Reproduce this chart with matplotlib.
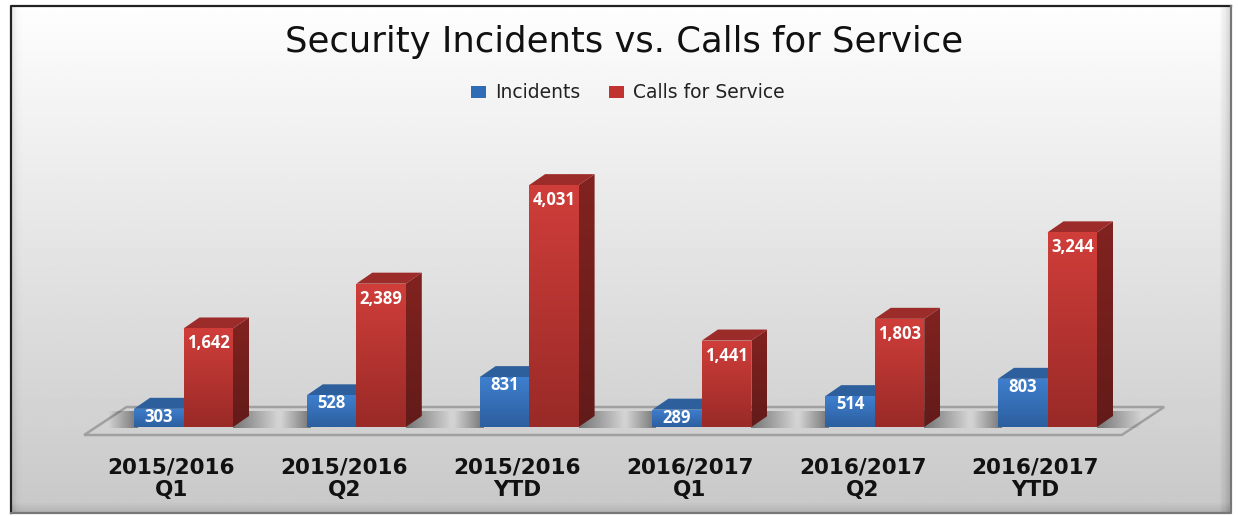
import numpy as np
import matplotlib
matplotlib.use('Agg')
import matplotlib.pyplot as plt
from matplotlib.patches import Polygon, Patch
from matplotlib.colors import LinearSegmentedColormap

categories = ['2015/2016\nQ1', '2015/2016\nQ2', '2015/2016\nYTD',
              '2016/2017\nQ1', '2016/2017\nQ2', '2016/2017\nYTD']
incidents = [303, 528, 831, 289, 514, 803]
calls = [1642, 2389, 4031, 1441, 1803, 3244]

W, H = 1238, 516
x0_px, x_step = 183.5, 172.8   # pixel of first category, pixels per category
y0_px, y_scale = 427.0, 0.06   # pixel of zero, pixels per unit
bar_w = 49.5 / x_step
dx = 16 / x_step
dy = 11 / y_scale

fig = plt.figure(figsize=(W / 100, H / 100), dpi=100, facecolor='white')

# background panel, in pixels
bg = fig.add_axes([0, 0, 1, 1])
bg.set_xlim(0, W)
bg.set_ylim(H, 0)
bg.axis('off')
L, T, R, B = 11, 6, 1231, 513
col = np.linspace(0.995, 0.785, 256)[:, None] * np.ones((256, 256))
yy, xx = np.mgrid[0:256, 0:256]
col = col.copy()
band = 6.0 / (R - L) * 256
right = np.clip((xx - (255 - band * 1.5)) / (band * 1.5), 0, 1)
left = np.clip(1 - xx / band, 0, 1)
bottom = np.clip((yy - 250) / 6, 0, 1)
col = col - 0.12 * right - 0.06 * left - 0.1 * bottom
bg.imshow(col, cmap='gray', vmin=0, vmax=1, extent=(L, R, B, T), aspect='auto', zorder=0)
bg.plot([L, L, R], [B, T, T], color='#222222', lw=1.6, zorder=2)
bg.plot([L, R, R], [B, B, T], color='#777777', lw=1.6, zorder=2)
bg.set_xlim(0, W)
bg.set_ylim(H, 0)

# main axes: x in categories, y in values, same pixel frame
ax = fig.add_axes([0, 0, 1, 1], facecolor='none')
ax.set_xlim((0 - x0_px) / x_step, (W - x0_px) / x_step)
ax.set_ylim((y0_px - H) / y_scale, y0_px / y_scale)
ax.axis('off')


def grad_poly(pts, c_top, c_bot, z):
    pts = np.array(pts)
    poly = Polygon(pts, closed=True, fc='none', ec='none', zorder=z)
    ax.add_patch(poly)
    cm = LinearSegmentedColormap.from_list('g', [c_top, c_bot])
    im = ax.imshow(np.linspace(0, 1, 128)[:, None], cmap=cm, aspect='auto', zorder=z,
                   extent=(pts[:, 0].min(), pts[:, 0].max(), pts[:, 1].min(), pts[:, 1].max()),
                   origin='upper', interpolation='bilinear')
    im.set_clip_path(poly)


def bar3d(x, v, front, side, top, z):
    grad_poly([(x, 0), (x + bar_w, 0), (x + bar_w, v), (x, v)], front[0], front[1], z + 1)
    grad_poly([(x + bar_w, 0), (x + bar_w + dx, dy), (x + bar_w + dx, v + dy), (x + bar_w, v)],
              side[0], side[1], z)
    ax.add_patch(Polygon([(x, v), (x + bar_w, v), (x + bar_w + dx, v + dy), (x + dx, v + dy)],
                         fc=top, ec='none', zorder=z))


def shadow(x1, x2, reverse):
    a = np.linspace(0.45, 0, 64)
    if reverse:
        a = a[::-1]
    rgba = np.zeros((1, 64, 4))
    rgba[0, :, 3] = a
    ax.imshow(rgba, aspect='auto', zorder=2, extent=(x1, x2, -20, 250), interpolation='bilinear')


# floor
fl = [(-0.575 - 0.0, -133), (5.43, -133), (5.675, 333), (-0.33, 333)]
ax.add_patch(Polygon(fl, closed=True, fc='none', ec='#a0a0a0', lw=1.8, zorder=1))

blue = dict(front=('#3f7fcf', '#2c5f9e'), side=('#2a5a94', '#234c80'), top='#2d5f9c')
red = dict(front=('#d03e3a', '#992a27'), side=('#822320', '#621b19'), top='#9c2c29')

for i, (a, b) in enumerate(zip(incidents, calls)):
    shadow(i - bar_w - 0.15, i - bar_w + 0.02, True)
    shadow(i + bar_w, i + bar_w + 0.26, False)
    bar3d(i - bar_w, a, z=4, **blue)
    bar3d(i, b, z=6, **red)
    ax.text(i - bar_w / 2, a - 8 / y_scale, f'{a:,}', color='white', fontweight='bold',
            fontsize=12, ha='center', va='center', zorder=10, family='Open Sans')
    ax.text(i + bar_w / 2, b - 15 / y_scale, f'{b:,}', color='white', fontweight='bold',
            fontsize=12, ha='center', va='center', zorder=10, family='Open Sans')
    ax.text(i - 0.07, -(479 - 427 + 0) / y_scale - 0, categories[i], color='#111111', fontweight='bold',
            fontsize=15.5, ha='center', va='center', linespacing=1.15, family='DejaVu Sans')

ax.set_xlim((0 - x0_px) / x_step, (W - x0_px) / x_step)
ax.set_ylim((y0_px - H) / y_scale, y0_px / y_scale)

fig.text(624 / W, 1 - 42 / H, 'Security Incidents vs. Calls for Service', fontsize=25.5,
         color='#111111', ha='center', va='center', family='DejaVu Sans')
handles = [Patch(fc='#2f6cb5', label='Incidents'), Patch(fc='#c0332f', label='Calls for Service')]
fig.legend(handles=handles, loc='center', bbox_to_anchor=(628 / W, 1 - 93 / H), ncol=2, frameon=False,
           fontsize=13.5, handlelength=0.8, handleheight=0.55, handletextpad=0.5, columnspacing=1.5,
           labelcolor='#222222')

fig.savefig('out.png', dpi=100)
